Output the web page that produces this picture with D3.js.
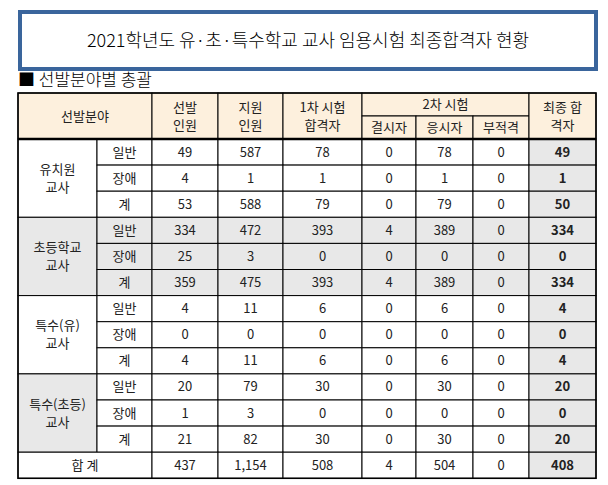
<!DOCTYPE html><html><head><meta charset="utf-8"><script src="https://cdn.jsdelivr.net/npm/d3@7"></script>
<style>body{margin:0;background:#fff}</style></head><body><svg id="c" width="608" height="485"></svg>
<script>
const title="2021학년도 유·초·특수학교 교사 임용시험 최종합격자 현황";
const section="■ 선발분야별 총괄";
const groups=["유치원\n교사","초등학교\n교사","특수(유)\n교사","특수(초등)\n교사"];
const subs=["일반","장애","계"];
const values=[
[49,587,78,0,78,0,49],[4,1,1,0,1,0,1],[53,588,79,0,79,0,50],
[334,472,393,4,389,0,334],[25,3,0,0,0,0,0],[359,475,393,4,389,0,334],
[4,11,6,0,6,0,4],[0,0,0,0,0,0,0],[4,11,6,0,6,0,4],
[20,79,30,0,30,0,20],[1,3,0,0,0,0,0],[21,82,30,0,30,0,20]];
const totals=["437","1,154","508","4","504","0","408"];
const svg=d3.select("#c");const F="'Noto Sans CJK KR','Malgun Gothic',sans-serif";
svg.append("rect").attr("x",20).attr("y",12).attr("width",576).attr("height",57).attr("fill","#fff").attr("stroke","#3a659c").attr("stroke-width",4);
svg.append("text").attr("x",308).attr("y",47).attr("text-anchor","middle").attr("font-family",F).attr("font-size",18).attr("font-weight",300).text(title);
svg.append("text").attr("x",18).attr("y",86).attr("font-family",F).attr("font-size",17).attr("font-weight",300).text(section);
const xs=[18,97,152,218,283,362,416,473,529,596];
const hTop=93,hMid=116,hBot=139,rh=26.1;
const y=i=>hBot+i*rh;
const g=svg.append("g").attr("font-family",F).attr("font-size",13);
function cell(x0,x1,y0,y1,fill,txt,bold){
 g.append("rect").attr("x",x0).attr("y",y0).attr("width",x1-x0).attr("height",y1-y0).attr("fill",fill).attr("stroke","#000").attr("stroke-width",1);
 if(txt!==undefined){const lines=String(txt).split("\n");const cy=(y0+y1)/2;
  lines.forEach((l,k)=>g.append("text").attr("x",(x0+x1)/2).attr("y",cy+(k-(lines.length-1)/2)*18+4.5).attr("text-anchor","middle").attr("font-weight",bold?"bold":null).attr("fill","#222").text(l));}
}
const H="#fdf0dd";
cell(xs[0],xs[2],hTop,hBot,H,"선발분야");
cell(xs[2],xs[3],hTop,hBot,H,"선발\n인원");
cell(xs[3],xs[4],hTop,hBot,H,"지원\n인원");
cell(xs[4],xs[5],hTop,hBot,H,"1차 시험\n합격자");
cell(xs[5],xs[8],hTop,hMid,H,"2차 시험");
cell(xs[5],xs[6],hMid,hBot,H,"결시자");cell(xs[6],xs[7],hMid,hBot,H,"응시자");cell(xs[7],xs[8],hMid,hBot,H,"부적격");
cell(xs[8],xs[9],hTop,hBot,H,"최종 합\n격자");
const G="#e8e8e8";
groups.forEach((gn,gi)=>{
 const rowGray=gi===1;
 cell(xs[0],xs[1],y(gi*3),y(gi*3+3),(gi===1||gi===3)?G:"#fff",gn);
 subs.forEach((s,si)=>{const r=gi*3+si;
  cell(xs[1],xs[2],y(r),y(r+1),rowGray?G:"#fff",s);
  values[r].forEach((v,c)=>cell(xs[c+2],xs[c+3],y(r),y(r+1),(rowGray||c===6)?G:"#fff",v,c===6));
 });
});
cell(xs[0],xs[2],y(12),y(13),"#fff","합 계");
totals.forEach((v,c)=>cell(xs[c+2],xs[c+3],y(12),y(13),c===6?G:"#fff",v,c===6));
g.append("line").attr("x1",xs[0]).attr("x2",xs[9]).attr("y1",hBot).attr("y2",hBot).attr("stroke","#000").attr("stroke-width",2.5);
g.append("rect").attr("x",xs[0]).attr("y",hTop).attr("width",xs[9]-xs[0]).attr("height",y(13)-hTop).attr("fill","none").attr("stroke","#000").attr("stroke-width",1.5);
</script></body></html>
